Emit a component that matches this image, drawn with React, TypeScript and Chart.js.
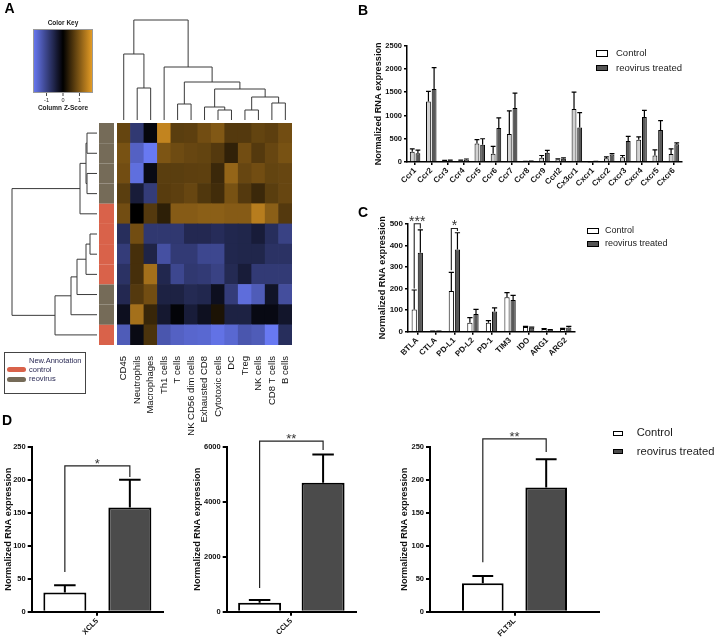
import React, { useEffect, useRef } from "react";
import { Chart, registerables } from "chart.js";
Chart.register(...registerables);

const FONT = "'Liberation Sans', Arial, Helvetica, sans-serif";
Chart.defaults.font.family = FONT;
Chart.defaults.color = "#1a1a1a";

// ---------------- Panel A data ----------------
const cellTypes = ["CD45", "Neutrophils", "Macrophages", "Th1 cells", "T cells", "NK CD56 dim cells", "Exhausted CD8", "Cytotoxic cells", "DC", "Treg", "NK cells", "CD8 T cells", "B cells"];
// samples, top to bottom
const sampleGroup = ["reovirus", "reovirus", "reovirus", "reovirus", "control", "control", "control", "control", "reovirus", "reovirus", "control"];
const zSample1 = [0.78, -0.85, -0.1, 1.5, 0.7, 0.72, 0.88, 1.0, 0.65, 0.65, 0.77, 0.72, 0.88];
const zSample2 = [0.93, -1.45, -1.8, 0.97, 0.85, 0.8, 0.77, 0.65, 0.38, 0.88, 0.65, 0.8, 0.93];
const zSample3 = [0.88, -1.65, -0.15, 0.7, 0.7, 0.72, 0.73, 0.46, 1.15, 0.8, 0.88, 0.77, 0.8];
const zSample4 = [0.7, -0.42, -0.9, 0.68, 0.72, 0.8, 0.62, 0.5, 0.93, 0.65, 0.46, 0.7, 0.8];
const zSample5 = [0.88, 0.0, 0.65, 0.35, 1.04, 1.04, 1.08, 1.08, 1.04, 1.04, 1.42, 1.08, 0.65];
const zSample6 = [-0.68, 0.88, -0.83, -0.83, -0.83, -0.6, -0.6, -0.66, -0.58, -0.56, -0.42, -0.68, -0.98];
const zSample7 = [-0.9, 0.54, -0.53, -1.2, -0.87, -0.87, -1.06, -1.06, -0.58, -0.56, -0.56, -0.74, -0.74];
const zSample8 = [-0.74, 0.54, 1.27, -0.58, -1.06, -0.83, -0.87, -0.98, -0.62, -0.42, -0.87, -0.87, -0.87];
const zSample9 = [-0.6, 0.65, 0.88, -0.5, -0.5, -0.62, -0.58, -0.23, -0.9, -1.63, -1.37, -0.3, -1.17];
const zSample10 = [-0.23, 1.27, 0.43, -0.36, -0.06, -0.42, -0.24, 0.22, -0.5, -0.5, -0.14, -0.14, -0.32];
const zSample11 = [-1.37, -0.15, 0.58, -1.29, -1.45, -1.52, -1.55, -1.7, -1.55, -1.29, -1.37, -1.8, -0.68];
const zScores = [zSample1, zSample2, zSample3, zSample4, zSample5, zSample6, zSample7, zSample8, zSample9, zSample10, zSample11];
// dendrogram merges: [left, right, height]; 0..n-1 = leaf, 100+k = k-th merge
const colMerges = [[1, 2, 32], [0, 100, 66], [4, 5, 16], [7, 8, 10], [6, 103, 13], [9, 10, 10], [11, 12, 17], [105, 106, 23], [104, 107, 31], [102, 108, 38], [3, 109, 53], [101, 110, 100]];
const rowMerges = [[0, 1, 10], [2, 3, 10], [100, 101, 11], [102, 4, 17], [5, 6, 7], [104, 7, 11], [105, 8, 20], [106, 9, 26], [107, 10, 42], [103, 108, 85]];
const keyTicks = [-1, 0, 1];

// ---------------- Panel B data ----------------
const chemokineReceptors = ["Ccr1", "Ccr2", "Ccr3", "Ccr4", "Ccr5", "Ccr6", "Ccr7", "Ccr8", "Ccr9", "Ccrl2", "Cx3cr1", "Cxcr1", "Cxcr2", "Cxcr3", "Cxcr4", "Cxcr5", "Cxcr6"];
const receptorControl = [220, 1300, 25, 30, 400, 180, 600, 10, 90, 60, 1140, 5, 80, 100, 480, 140, 170];
const receptorControlErr = [60, 220, 10, 10, 80, 155, 500, 5, 50, 10, 360, 3, 30, 40, 60, 120, 110];
const receptorTreated = [190, 1570, 30, 50, 370, 730, 1160, 15, 200, 70, 740, 10, 160, 450, 970, 690, 380];
const receptorTreatedErr = [65, 460, 10, 15, 130, 220, 320, 5, 50, 20, 320, 3, 20, 100, 140, 200, 30];

// ---------------- Panel C data ----------------
const checkpoints = ["BTLA", "CTLA", "PD-L1", "PD-L2", "PD-1", "TIM3", "IDO", "ARG1", "ARG2"];
const checkpointControl = [103, 2, 188, 42, 42, 159, 22, 12, 12];
const checkpointControlErr = [90, 1, 87, 23, 9, 22, 3, 2, 3];
const checkpointTreated = [366, 2, 381, 82, 94, 147, 18, 8, 20];
const checkpointTreatedErr = [105, 1, 77, 21, 16, 21, 3, 2, 5];
const checkpointSignif = [
  { index: 0, at: 500, leftTo: 200, rightTo: 478, text: "***" },
  { index: 2, at: 478, leftTo: 285, rightTo: 466, text: "*" },
];

// ---------------- Panel D data ----------------
const xcl5Label = ["XCL5"];
const xcl5Control = [29]; const xcl5ControlErr = [11];
const xcl5Treated = [158]; const xcl5TreatedErr = [42];
const xcl5Signif = [{ index: 0, at: 221, leftTo: 60, rightTo: 204, text: "*" }];
const ccl5Label = ["CCL5"];
const ccl5Control = [330]; const ccl5ControlErr = [100];
const ccl5Treated = [4690]; const ccl5TreatedErr = [1030];
const ccl5Signif = [{ index: 0, at: 6200, leftTo: 860, rightTo: 5880, text: "**" }];
const flt3lLabel = ["FLT3L"];
const flt3lControl = [43]; const flt3lControlErr = [11];
const flt3lTreated = [188]; const flt3lTreatedErr = [43];
const flt3lSignif = [{ index: 0, at: 262, leftTo: 75, rightTo: 242, text: "**" }];

// ---------------- helpers ----------------
const zLimit = 1.82;
const blueEnd = [105, 122, 245];
const orangeEnd = [235, 160, 38];
function zColor(z: number) {
  const t = Math.max(-1, Math.min(1, z / zLimit));
  const c = t < 0 ? blueEnd : orangeEnd;
  const a = Math.abs(t);
  return `rgb(${Math.round(c[0] * a)},${Math.round(c[1] * a)},${Math.round(c[2] * a)})`;
}
const groupColors: Record<string, string> = { control: "#d9624a", reovirus: "#756b58" };

function drawTree(ctx: CanvasRenderingContext2D, merges: number[][], leafPos: (i: number) => number, base: number, dir: "up" | "left") {
  const nodes: { c: number; h: number }[] = [];
  const get = (id: number) => (id >= 100 ? nodes[id - 100] : { c: leafPos(id), h: 0 });
  const p = (c: number, hh: number): [number, number] => (dir === "up" ? [c, base - hh] : [base - hh, c]);
  merges.forEach(([a, b, h]) => {
    const A = get(a), B = get(b);
    ctx.beginPath();
    ctx.moveTo(...p(A.c, A.h));
    ctx.lineTo(...p(A.c, h));
    ctx.lineTo(...p(B.c, h));
    ctx.lineTo(...p(B.c, B.h));
    ctx.stroke();
    nodes.push({ c: (A.c + B.c) / 2, h });
  });
}

const heatmapExtras = {
  id: "heatmapExtras",
  afterDraw(chart: any) {
    const { ctx, chartArea, scales } = chart;
    const x = scales.x, y = scales.y;
    const n = zScores.length;
    ctx.save();
    sampleGroup.forEach((g, r) => {
      const top = y.getPixelForValue(n - r), bot = y.getPixelForValue(n - r - 1);
      ctx.fillStyle = groupColors[g];
      ctx.fillRect(chartArea.left - 18, top, 15, bot - top);
    });
    ctx.strokeStyle = "#3a3a3a";
    ctx.lineWidth = 1;
    drawTree(ctx, colMerges, (i) => x.getPixelForValue(i), chartArea.top - 3, "up");
    drawTree(ctx, rowMerges, (r) => y.getPixelForValue(n - r - 0.5), chartArea.left - 20, "left");
    // colour key
    const key = { x: 33, y: 29, w: 60, h: 64 };
    const grad = ctx.createLinearGradient(key.x, 0, key.x + key.w, 0);
    for (let i = 0; i <= 20; i++) grad.addColorStop(i / 20, zColor(-zLimit + (2 * zLimit * i) / 20));
    ctx.fillStyle = grad;
    ctx.fillRect(key.x, key.y, key.w, key.h);
    ctx.strokeStyle = "#9a9a9a";
    ctx.strokeRect(key.x + 0.5, key.y + 0.5, key.w - 1, key.h - 1);
    ctx.fillStyle = "#222";
    ctx.textAlign = "center";
    ctx.textBaseline = "middle";
    ctx.font = `bold 6.5px ${FONT}`;
    ctx.fillText("Color Key", key.x + key.w / 2, 23.5);
    ctx.strokeStyle = "#444";
    ctx.font = `5.5px ${FONT}`;
    keyTicks.forEach((v) => {
      const px = key.x + ((v + zLimit) / (2 * zLimit)) * key.w;
      ctx.beginPath();
      ctx.moveTo(px, key.y + key.h);
      ctx.lineTo(px, key.y + key.h + 3);
      ctx.stroke();
      ctx.fillText(String(v), px, key.y + key.h + 7.5);
    });
    ctx.font = `bold 6.5px ${FONT}`;
    ctx.fillText("Column Z-Score", key.x + key.w / 2, 108.5);
    ctx.restore();
  },
};

function heatmapConfig(): any {
  const n = zScores.length;
  const datasets = zScores.map((_, k) => {
    const row = zScores[n - 1 - k];
    return { data: row.map(() => 1), backgroundColor: row.map(zColor), borderWidth: 0, barPercentage: 1, categoryPercentage: 1 };
  });
  return {
    type: "bar",
    data: { labels: cellTypes, datasets },
    options: {
      responsive: false, animation: false, devicePixelRatio: 1,
      layout: { padding: { left: 117, right: 6.5, top: 123, bottom: 0 } },
      plugins: { legend: { display: false }, tooltip: { enabled: false } },
      scales: {
        x: {
          stacked: true, grid: { display: false }, border: { display: false },
          ticks: { autoSkip: false, minRotation: 90, maxRotation: 90, padding: 3, font: { size: 9.5 }, color: "#111" },
          afterFit: (s: any) => { s.height = 95; },
        },
        y: { stacked: true, display: false, min: 0, max: n },
      },
    },
    plugins: [heatmapExtras],
  };
}

function makeErrorBars(errs: number[][], lineWidth: number, capFrac: number) {
  return {
    id: "errbars",
    afterDatasetsDraw(chart: any) {
      const { ctx } = chart;
      const y = chart.scales.y;
      errs.forEach((e, di) => {
        const meta = chart.getDatasetMeta(di);
        const data = chart.data.datasets[di].data;
        meta.data.forEach((bar: any, i: number) => {
          if (!e[i]) return;
          const base = y.getPixelForValue(data[i]);
          const top = y.getPixelForValue(data[i] + e[i]);
          const w = bar.width * capFrac;
          ctx.save();
          ctx.strokeStyle = "#000";
          ctx.lineWidth = lineWidth;
          ctx.beginPath();
          ctx.moveTo(bar.x, base);
          ctx.lineTo(bar.x, top);
          ctx.moveTo(bar.x - w / 2, top);
          ctx.lineTo(bar.x + w / 2, top);
          ctx.stroke();
          ctx.restore();
        });
      });
    },
  };
}

function makeBrackets(items: any[], lineWidth: number, fontSize: number) {
  return {
    id: "brackets",
    afterDraw(chart: any) {
      const { ctx } = chart;
      const y = chart.scales.y;
      const m0 = chart.getDatasetMeta(0), m1 = chart.getDatasetMeta(1);
      items.forEach((b) => {
        const xl = m0.data[b.index].x, xr = m1.data[b.index].x;
        const yt = y.getPixelForValue(b.at);
        ctx.save();
        ctx.strokeStyle = "#222";
        ctx.lineWidth = lineWidth;
        ctx.beginPath();
        ctx.moveTo(xl, y.getPixelForValue(b.leftTo));
        ctx.lineTo(xl, yt);
        ctx.lineTo(xr, yt);
        ctx.lineTo(xr, y.getPixelForValue(b.rightTo));
        ctx.stroke();
        ctx.fillStyle = "#333";
        ctx.font = `${fontSize}px ${FONT}`;
        ctx.textAlign = "center";
        ctx.textBaseline = "alphabetic";
        ctx.fillText(b.text, (xl + xr) / 2, yt + 2);
        ctx.restore();
      });
    },
  };
}

type BarSpec = {
  labels: string[]; control: number[]; controlErr: number[]; treated: number[]; treatedErr: number[];
  brackets: any[]; yMax: number; yStep: number;
  yWidth: number; padTop: number; padRight: number; xHeight: number; titleX: number;
  tickFont: number; xFont: number; titleFont: number; axisW: number; tickLen: number;
  barBorder: number; errW: number; capFrac: number; catPct: number; barPct: number;
  controlFill: string; treatedFill: string; starFont: number;
};

function makeBarConfig(s: BarSpec): any {
  const lh = s.titleFont * 1.2;
  return {
    type: "bar",
    data: {
      labels: s.labels,
      datasets: [
        { label: "Control", data: s.control, backgroundColor: s.controlFill, borderColor: "#000", borderWidth: s.barBorder, categoryPercentage: s.catPct, barPercentage: s.barPct },
        { label: "reovirus treated", data: s.treated, backgroundColor: s.treatedFill, borderColor: "#000", borderWidth: s.barBorder, categoryPercentage: s.catPct, barPercentage: s.barPct },
      ],
    },
    options: {
      responsive: false, animation: false, devicePixelRatio: 1,
      layout: { padding: { left: 0, right: s.padRight, top: s.padTop, bottom: 0 } },
      plugins: { legend: { display: false }, tooltip: { enabled: false } },
      scales: {
        x: {
          grid: { display: true, drawOnChartArea: false, drawTicks: true, tickLength: s.tickLen, offset: false, color: "#000", lineWidth: s.axisW },
          border: { display: true, color: "#000", width: s.axisW },
          ticks: { autoSkip: false, minRotation: 45, maxRotation: 45, padding: 1, font: { size: s.xFont, weight: "bold" }, color: "#111" },
          afterFit: (sc: any) => { sc.height = s.xHeight; },
        },
        y: {
          min: 0, max: s.yMax,
          ticks: { stepSize: s.yStep, callback: (v: any) => String(v), font: { size: s.tickFont, weight: "bold" }, color: "#111", padding: 2 },
          grid: { display: true, drawOnChartArea: false, drawTicks: true, tickLength: s.tickLen, color: "#000", lineWidth: s.axisW },
          border: { display: true, color: "#000", width: s.axisW },
          title: { display: true, text: "Normalized RNA expression", font: { size: s.titleFont, weight: "bold" }, color: "#111", padding: { top: s.titleX - lh / 2, bottom: 0 } },
          afterFit: (sc: any) => { sc.width = s.yWidth; },
        },
      },
    },
    plugins: [makeErrorBars([s.controlErr, s.treatedErr], s.errW, s.capFrac), makeBrackets(s.brackets, s.axisW >= 2 ? 1.2 : 1.1, s.starFont)],
  };
}

const smallStyle = { tickFont: 7.5, xFont: 8, titleFont: 9.2, axisW: 1.5, tickLen: 3, barBorder: 1, errW: 1.2, capFrac: 1, controlFill: "#ffffff", treatedFill: "#595959", starFont: 14 };
const bigStyle = { tickFont: 7.5, xFont: 7.5, titleFont: 9.2, axisW: 2, tickLen: 4, barBorder: 2, errW: 2, capFrac: 0.5, controlFill: "#ffffff", treatedFill: "#4b4b4b", starFont: 13 };

const specB: BarSpec = {
  ...smallStyle, controlFill: "#d2d2d2",
  labels: chemokineReceptors, control: receptorControl, controlErr: receptorControlErr, treated: receptorTreated, treatedErr: receptorTreatedErr,
  brackets: [], yMax: 2500, yStep: 500,
  yWidth: 47, padTop: 15.7, padRight: 34, xHeight: 38, titleX: 18.3, catPct: 0.7, barPct: 0.85,
};
const specC: BarSpec = {
  ...smallStyle, tickFont: 8,
  labels: checkpoints, control: checkpointControl, controlErr: checkpointControlErr, treated: checkpointTreated, treatedErr: checkpointTreatedErr,
  brackets: checkpointSignif, yMax: 500, yStep: 100,
  yWidth: 48, padTop: 23.7, padRight: 141, xHeight: 38.3, titleX: 22.7, catPct: 0.66, barPct: 0.85,
};
const specD1: BarSpec = {
  ...bigStyle,
  labels: xcl5Label, control: xcl5Control, controlErr: xcl5ControlErr, treated: xcl5Treated, treatedErr: xcl5TreatedErr,
  brackets: xcl5Signif, yMax: 250, yStep: 50,
  yWidth: 31.7, padTop: 26.7, padRight: 25, xHeight: 30.3, titleX: 8, catPct: 0.99, barPct: 0.662,
};
const specD2: BarSpec = {
  ...bigStyle,
  labels: ccl5Label, control: ccl5Control, controlErr: ccl5ControlErr, treated: ccl5Treated, treatedErr: ccl5TreatedErr,
  brackets: ccl5Signif, yMax: 6000, yStep: 2000,
  yWidth: 38.7, padTop: 26.7, padRight: 40, xHeight: 30.3, titleX: 9.5, catPct: 0.982, barPct: 0.677,
};
const specD3: BarSpec = {
  ...bigStyle,
  labels: flt3lLabel, control: flt3lControl, controlErr: flt3lControlErr, treated: flt3lTreated, treatedErr: flt3lTreatedErr,
  brackets: flt3lSignif, yMax: 250, yStep: 50,
  yWidth: 34, padTop: 26.7, padRight: 17, xHeight: 30.3, titleX: 8, catPct: 0.75, barPct: 0.657,
};

function Legend(p: { left: number; top: number; textLeft: number; gap: number; font: number; boxW: number; boxH: number; border: number; fill: string }) {
  const items = [
    { label: "Control", fill: "#ffffff" },
    { label: "reovirus treated", fill: p.fill },
  ];
  return (
    <>
      {items.map((it, i) => (
        <React.Fragment key={it.label}>
          <div style={{ position: "absolute", left: p.left, top: p.top + i * p.gap - p.boxH / 2, width: p.boxW, height: p.boxH, boxSizing: "border-box", border: `${p.border}px solid #000`, background: it.fill }} />
          <div style={{ position: "absolute", left: p.textLeft, top: p.top + i * p.gap - p.font / 2 - 0.5, fontSize: p.font, lineHeight: `${p.font}px`, color: "#1a1a1a", whiteSpace: "nowrap" }}>{it.label}</div>
        </React.Fragment>
      ))}
    </>
  );
}

const letterStyle: React.CSSProperties = { position: "absolute", fontWeight: "bold", fontSize: 14, lineHeight: "14px", color: "#000" };

export default function App() {
  const aRef = useRef<HTMLCanvasElement>(null);
  const bRef = useRef<HTMLCanvasElement>(null);
  const cRef = useRef<HTMLCanvasElement>(null);
  const d1Ref = useRef<HTMLCanvasElement>(null);
  const d2Ref = useRef<HTMLCanvasElement>(null);
  const d3Ref = useRef<HTMLCanvasElement>(null);

  useEffect(() => {
    const charts: Chart[] = [];
    charts.push(new Chart(aRef.current as HTMLCanvasElement, heatmapConfig()));
    charts.push(new Chart(bRef.current as HTMLCanvasElement, makeBarConfig(specB)));
    charts.push(new Chart(cRef.current as HTMLCanvasElement, makeBarConfig(specC)));
    charts.push(new Chart(d1Ref.current as HTMLCanvasElement, makeBarConfig(specD1)));
    charts.push(new Chart(d2Ref.current as HTMLCanvasElement, makeBarConfig(specD2)));
    charts.push(new Chart(d3Ref.current as HTMLCanvasElement, makeBarConfig(specD3)));
    return () => charts.forEach((c) => c.destroy());
  }, []);

  const cv = (left: number, top: number): React.CSSProperties => ({ position: "absolute", left, top });

  return (
    <div style={{ position: "absolute", left: 0, top: 0, width: 716, height: 642, background: "#fff", overflow: "hidden", fontFamily: FONT }}>
      <canvas ref={aRef} width={300} height={440} style={cv(0, 0)} />
      <canvas ref={bRef} width={356} height={170} style={cv(360, 30)} />
      <canvas ref={cRef} width={356} height={170} style={cv(360, 200)} />
      <canvas ref={d1Ref} width={188} height={222} style={cv(0, 420)} />
      <canvas ref={d2Ref} width={208} height={222} style={cv(188, 420)} />
      <canvas ref={d3Ref} width={220} height={222} style={cv(396, 420)} />

      <div style={{ ...letterStyle, left: 4.5, top: 1 }}>A</div>
      <div style={{ ...letterStyle, left: 358, top: 2.5 }}>B</div>
      <div style={{ ...letterStyle, left: 358, top: 204.5 }}>C</div>
      <div style={{ ...letterStyle, left: 2, top: 413 }}>D</div>

      {/* Panel A annotation legend */}
      <div style={{ position: "absolute", left: 3.5, top: 352, width: 82, height: 42, boxSizing: "border-box", border: "1px solid #444" }} />
      <div style={{ position: "absolute", left: 29, top: 357, fontSize: 7.5, lineHeight: "8px", color: "#2a2a55", whiteSpace: "nowrap" }}>New.Annotation</div>
      <div style={{ position: "absolute", left: 6.7, top: 367.3, width: 19.3, height: 5, borderRadius: 3, background: groupColors.control }} />
      <div style={{ position: "absolute", left: 29, top: 366, fontSize: 7.5, lineHeight: "8px", color: "#2a2a55" }}>control</div>
      <div style={{ position: "absolute", left: 6.7, top: 376.7, width: 19.3, height: 5, borderRadius: 3, background: groupColors.reovirus }} />
      <div style={{ position: "absolute", left: 29, top: 375, fontSize: 7.5, lineHeight: "8px", color: "#2a2a55" }}>reovirus</div>

      <Legend left={596} top={53.5} textLeft={616} gap={14.5} font={9.5} boxW={12.3} boxH={6.8} border={1.5} fill="#555555" />
      <Legend left={586.7} top={231.3} textLeft={605} gap={12.2} font={9} boxW={12} boxH={6} border={1.5} fill="#555555" />
      <Legend left={612.7} top={433.3} textLeft={636.7} gap={18.4} font={11.2} boxW={10.8} boxH={5.2} border={1.8} fill="#4b4b4b" />
    </div>
  );
}
